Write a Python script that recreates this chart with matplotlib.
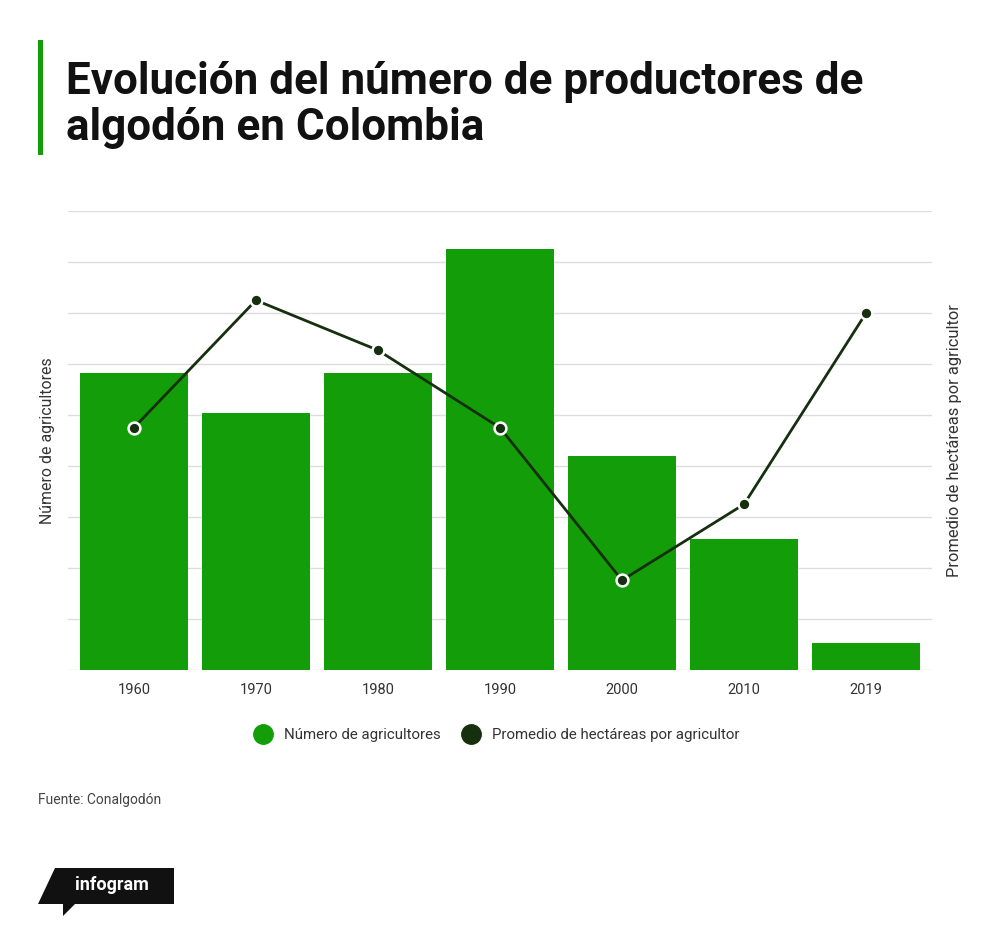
import matplotlib
matplotlib.use("Agg")
import matplotlib.pyplot as plt
from matplotlib.lines import Line2D
from matplotlib.patches import Polygon, Rectangle

plt.rcParams['font.family'] = ['Roboto', 'DejaVu Sans']

years = ["1960", "1970", "1980", "1990", "2000", "2010", "2019"]
agricultores = [5.82, 5.04, 5.82, 8.25, 4.2, 2.57, 0.53]
hectareas = [4.75, 7.25, 6.27, 4.75, 1.76, 3.25, 7.0]

green = "#139e09"
dark = "#16300f"

W, H = 1000, 936
fig = plt.figure(figsize=(W / 100, H / 100), dpi=100)

def fx(px):
    return px / W

def fy(py):
    return 1 - py / H

ax = fig.add_axes([fx(68), fy(670), fx(932) - fx(68), fy(211) - fy(670)])
x = list(range(len(years)))
ax.bar(x, agricultores, width=0.89, color=green, zorder=2)
ax.set_xlim(-0.54, len(years) - 0.46)
ax.set_ylim(0, 9)
ax.set_yticks(range(0, 10))
ax.set_yticklabels([])
ax.tick_params(axis='y', length=0)
ax.grid(axis='y', color='#dddddd', lw=1, zorder=0)
ax.set_axisbelow(True)
for s in ax.spines.values():
    s.set_visible(False)
ax.set_xticks(x)
ax.set_xticklabels(years, fontsize=10.5, color='#333333')
ax.tick_params(axis='x', length=0, pad=9)
ax.set_ylabel("Número de agricultores", fontsize=11.4, color='#333333', labelpad=6)

ax2 = ax.twinx()
ax2.plot(x, hectareas, color=dark, lw=2, marker='o', markersize=8.5,
         markerfacecolor=dark, markeredgecolor='white', markeredgewidth=1.8, zorder=3)
ax2.set_ylim(0, 9)
ax2.set_yticks([])
for s in ax2.spines.values():
    s.set_visible(False)
ax2.set_ylabel("Promedio de hectáreas por agricultor", fontsize=11.9, color='#333333',
               labelpad=11)

# titulo
fig.add_artist(Rectangle((fx(38), fy(155)), fx(5), fy(40) - fy(155), color=green, lw=0))
fig.text(fx(66), fy(94), "Evolución del número de productores de", fontsize=31.7,
         fontweight='bold', color='#111111', va='baseline')
fig.text(fx(66), fy(140), "algodón en Colombia", fontsize=31.7,
         fontweight='bold', color='#111111', va='baseline')

# leyenda
handles = [
    Line2D([], [], marker='o', ls='none', color=green, markersize=14),
    Line2D([], [], marker='o', ls='none', color=dark, markersize=14),
]
fig.legend(handles, ["Número de agricultores", "Promedio de hectáreas por agricultor"],
           loc='center', bbox_to_anchor=(fx(494), fy(735)), ncol=2, frameon=False,
           fontsize=10.8, handletextpad=0.4, columnspacing=1.0, labelcolor='#333333')

fig.text(fx(38), fy(800), "Fuente: Conalgodón", fontsize=10, color='#444444', va='center')

# logo
pts = [(55, 868), (174, 868), (174, 904), (75, 904), (63, 916), (63, 904), (38, 904)]
fig.add_artist(Polygon([(fx(a), fy(b)) for a, b in pts], closed=True, color='#111111', lw=0))
fig.text(fx(112), fy(885), "infogram", fontsize=13, fontweight='bold', color='white',
         ha='center', va='center')

fig.savefig("out.png", dpi=100, facecolor='white')
